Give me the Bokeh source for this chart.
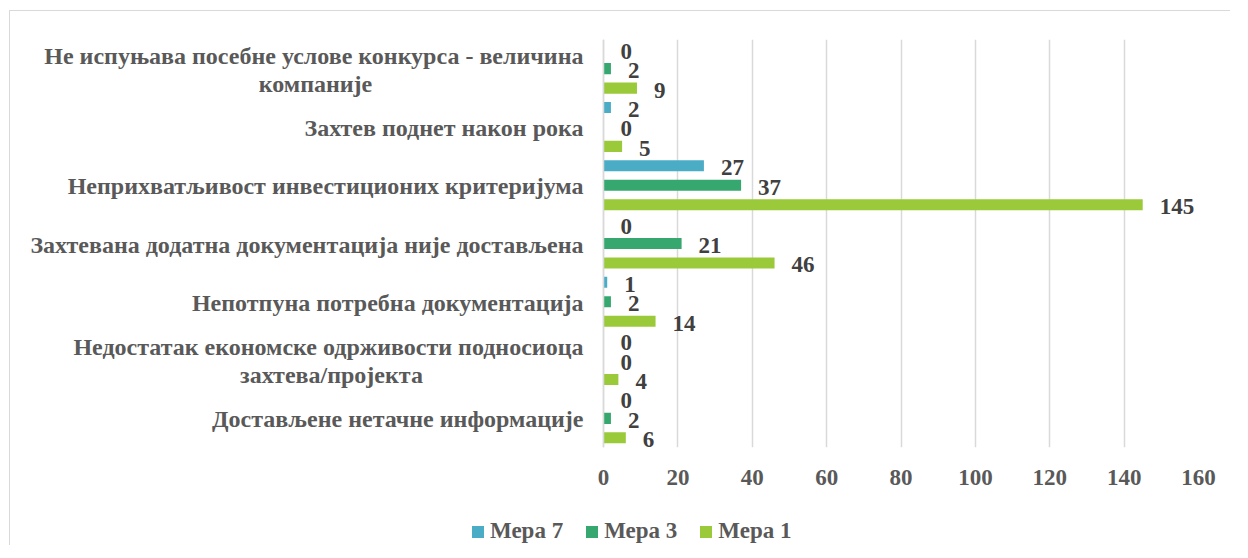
from bokeh.plotting import figure
from bokeh.models import ColumnDataSource, Legend, LegendItem, FactorRange, Range1d, Span
from bokeh.layouts import column
from bokeh.transform import dodge
from bokeh.core.properties import value
from bokeh.embed import file_html
from bokeh.resources import INLINE

categories = [
    "Не испуњава посебне услове конкурса - величина\nкомпаније",
    "Захтев поднет након рока",
    "Неприхватљивост инвестиционих критеријума",
    "Захтевана додатна документација није достављена",
    "Непотпуна потребна документација",
    "Недостатак економске одрживости подносиоца\nзахтева/пројекта",
    "Достављене нетачне информације",
]
mera7 = [0, 2, 27, 0, 1, 0, 0]
mera3 = [2, 0, 37, 21, 2, 0, 2]
mera1 = [9, 5, 145, 46, 14, 4, 6]
series_names = ["Мера 7", "Мера 3", "Мера 1"]
ticks = [0, 20, 40, 60, 80, 100, 120, 140, 160]

colors = ["#4BACC6", "#36A86F", "#9ACA3A"]
FONT = "Liberation Serif"
GRAY = "#595959"

# ---- layout constants (pixels) ----
LABEL_AREA = 603          # space left of the value 0
PLOT_PX = 595             # pixels from 0 to 160
x_min = -LABEL_AREA * 160 / PLOT_PX

src = ColumnDataSource(dict(cat=categories, m7=mera7, m3=mera3, m1=mera1,
                            l7=[str(v) for v in mera7], l3=[str(v) for v in mera3],
                            l1=[str(v) for v in mera1]))

p = figure(y_range=FactorRange(*reversed(categories)), x_range=Range1d(x_min, 160),
           width=1230, height=505, output_backend="svg", toolbar_location=None,
           y_axis_location=None,
           min_border_left=0, min_border_right=32, min_border_top=39,
           min_border_bottom=58)
p.outline_line_color = None
p.background_fill_color = None
p.border_fill_color = None

offsets = [0.334, 0.0, -0.334]
fields = ["m7", "m3", "m1"]
lfields = ["l7", "l3", "l1"]
renderers = []
for f, lf, off, c in zip(fields, lfields, offsets, colors):
    r = p.hbar(y=dodge("cat", off, range=p.y_range), right=f, left=0, height=0.19,
               source=src, fill_color=c, line_color=None)
    renderers.append(r)
    p.text(x=f, y=dodge("cat", off, range=p.y_range), text=lf, source=src,
           x_offset=17, y_offset=2, text_align="left", text_baseline="middle",
           text_font=value(FONT), text_font_style="bold", text_font_size="23px",
           text_color="#404040")

# category labels (left of the value axis)
single = [c for c in categories if "\n" not in c]
wrapped = [c for c in categories if "\n" in c]
label_style = dict(text_font=value(FONT), text_font_style="bold",
                   text_font_size="24px", text_color=GRAY, text_baseline="middle")
p.text(x=[0] * len(single), y=single, text=single, x_offset=-20, y_offset=1,
       text_align="right", **label_style)
p.text(x=[0] * len(wrapped), y=wrapped, text=[c.split("\n")[0] for c in wrapped],
       x_offset=-20, y_offset=-13, text_align="right", **label_style)
second_center = [-288, -272]
for c, xo in zip(wrapped, second_center):
    p.text(x=[0], y=[c], text=[c.split("\n")[1]], x_offset=xo, y_offset=15,
           text_align="center", **label_style)

# value axis line at 0
p.add_layout(Span(location=0, dimension="height", line_color="#D9D9D9", line_width=1.5))

p.xgrid.grid_line_color = "#D9D9D9"
p.xgrid.grid_line_width = 1.5
p.ygrid.grid_line_color = None
p.xaxis.ticker = ticks
p.xaxis.axis_line_color = None
p.xaxis.major_tick_line_color = None
p.xaxis.minor_tick_line_color = None
p.xaxis.major_label_standoff = 16
p.xaxis.major_label_text_font = FONT
p.xaxis.major_label_text_font_style = "bold"
p.xaxis.major_label_text_font_size = "23px"
p.xaxis.major_label_text_color = GRAY

# legend strip below the chart
leg = figure(width=1230, height=40, output_backend="svg", toolbar_location=None,
             x_axis_location=None, y_axis_location=None, min_border=0,
             x_range=Range1d(0, 1), y_range=Range1d(0, 1))
leg.outline_line_color = None
leg.grid.grid_line_color = None
leg.background_fill_color = None
leg.border_fill_color = None
leg.frame_align = False
leg_renderers = [leg.hbar(y=[-5], left=[-5], right=[-5], height=0, fill_color=c, line_color=None)
                 for c in colors]
legend = Legend(items=[LegendItem(label=n, renderers=[r]) for n, r in zip(series_names, leg_renderers)],
                orientation="horizontal", location=(470, 1),
                label_text_font=FONT, label_text_font_style="bold",
                label_text_font_size="23px", label_text_color=GRAY,
                glyph_width=15, glyph_height=15, spacing=21, label_standoff=5,
                border_line_color=None, background_fill_alpha=0, padding=0, margin=0)
leg.add_layout(legend)

layout = column(p, leg, spacing=0)
layout.styles = {
    "background": "linear-gradient(#D9D9D9,#D9D9D9) 9px 10px / calc(100% - 9px) 1px no-repeat, "
                  "linear-gradient(#D9D9D9,#D9D9D9) 9px 10px / 1px calc(100% - 10px) no-repeat"
}

open("out.html", "w").write(file_html(layout, INLINE))
